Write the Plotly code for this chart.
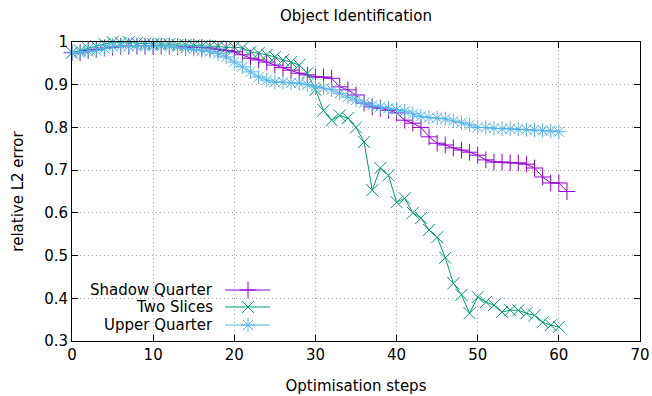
import plotly.graph_objects as go

steps_shadow = list(range(0, 62))
shadow_quarter = [0.975, 0.975, 0.98, 0.983, 0.986, 0.988, 0.99, 0.99, 0.99, 0.99,
                  0.99, 0.99, 0.99, 0.989, 0.988, 0.988, 0.987, 0.986, 0.983, 0.98,
                  0.977, 0.97, 0.962, 0.958, 0.953, 0.946, 0.94, 0.934, 0.927, 0.923,
                  0.918, 0.918, 0.915, 0.895, 0.888, 0.876, 0.857, 0.848, 0.845, 0.84,
                  0.834, 0.817, 0.81, 0.80, 0.778, 0.763, 0.759, 0.752, 0.747, 0.742,
                  0.735, 0.724, 0.719, 0.719, 0.717, 0.717, 0.714, 0.705, 0.684, 0.67,
                  0.67, 0.65]

steps_two = list(range(0, 61))
two_slices = [0.975, 0.98, 0.985, 0.99, 0.995, 1.0, 0.998, 1.0, 0.997, 0.996,
              0.995, 0.995, 0.995, 0.993, 0.993, 0.992, 0.99, 0.99, 0.99, 0.987,
              0.988, 0.986, 0.977, 0.974, 0.97, 0.965, 0.958, 0.953, 0.946, 0.927,
              0.888, 0.84, 0.817, 0.828, 0.822, 0.80, 0.766, 0.653, 0.705, 0.688,
              0.625, 0.634, 0.60, 0.588, 0.56, 0.543, 0.495, 0.435, 0.408, 0.365,
              0.403, 0.391, 0.384, 0.368, 0.372, 0.372, 0.365, 0.36, 0.344, 0.337,
              0.333]

steps_upper = list(range(0, 61))
upper_quarter = [0.975, 0.975, 0.978, 0.98, 0.985, 0.99, 0.99, 0.99, 0.99, 0.99,
                 0.99, 0.99, 0.99, 0.988, 0.985, 0.983, 0.98, 0.978, 0.973, 0.965,
                 0.953, 0.942, 0.93, 0.918, 0.911, 0.906, 0.906, 0.904, 0.904, 0.9,
                 0.895, 0.892, 0.888, 0.88, 0.871, 0.864, 0.857, 0.852, 0.848, 0.845,
                 0.842, 0.838, 0.832, 0.826, 0.823, 0.822, 0.82, 0.815, 0.811, 0.806,
                 0.80, 0.80, 0.798, 0.797, 0.797, 0.796, 0.795, 0.794, 0.793, 0.792,
                 0.79]

x_ticks = [0, 10, 20, 30, 40, 50, 60, 70]
y_ticks = [0.3, 0.4, 0.5, 0.6, 0.7, 0.8, 0.9, 1.0]
y_tick_labels = ["0.3", "0.4", "0.5", "0.6", "0.7", "0.8", "0.9", "1"]

series_names = ["Shadow Quarter", "Two Slices", "Upper Quarter"]
colors = ["#9400d3", "#009e73", "#56b4e9"]
symbols = ["cross-thin-open", "x-thin-open", "asterisk-open"]
sizes = [12, 12, 12]

FONT = "DejaVu Sans"
FS = 15
W, H = 652, 396
L, R, T, B = 72, 12, 42, 55

fig = go.Figure()
data = [(steps_shadow, shadow_quarter), (steps_two, two_slices), (steps_upper, upper_quarter)]
for (xs, ys), name, c, s, sz in zip(data, series_names, colors, symbols, sizes):
    fig.add_trace(go.Scatter(
        x=xs, y=ys, name=name, mode="lines+markers",
        line=dict(color=c, width=1),
        marker=dict(symbol=s, size=sz, color=c, line=dict(color=c, width=1)),
        showlegend=False, cliponaxis=False,
    ))

# custom gnuplot-style key (text right-aligned, sample on the right) on a pixel overlay axis
key_rows = [290, 307, 325]
for name, c, s, sz, yk in zip(series_names, colors, symbols, sizes, key_rows):
    fig.add_trace(go.Scatter(
        x=[225, 270], y=[yk, yk], mode="lines", line=dict(color=c, width=1),
        xaxis="x2", yaxis="y2", showlegend=False, hoverinfo="skip"))
    fig.add_trace(go.Scatter(
        x=[248], y=[yk], mode="markers",
        marker=dict(symbol=s, size=sz, color=c, line=dict(color=c, width=1)),
        xaxis="x2", yaxis="y2", showlegend=False, hoverinfo="skip"))
    fig.add_annotation(x=215, y=yk, xref="x2", yref="y2", text=name,
                       showarrow=False, xanchor="right", yanchor="middle",
                       font=dict(family=FONT, size=FS, color="black"))

axis_common = dict(
    showline=True, linecolor="black", linewidth=1, mirror="ticks",
    ticks="inside", ticklen=6, tickcolor="black", tickwidth=1,
    showgrid=True, gridcolor="#a8a8a8", griddash="1px,3px", gridwidth=1,
    zeroline=False, automargin=False,
    tickfont=dict(family=FONT, size=FS, color="black"),
)

fig.update_layout(
    width=W, height=H,
    margin=dict(l=L, r=R, t=T, b=B),
    paper_bgcolor="white", plot_bgcolor="white",
    title=dict(text="Object Identification", x=0.546, xanchor="center",
               y=1 - 16 / H, yanchor="middle",
               font=dict(family=FONT, size=FS, color="black")),
    xaxis=dict(range=[0, 70], tickvals=x_ticks,
               title=dict(text="Optimisation steps", standoff=17,
                          font=dict(family=FONT, size=FS, color="black")),
               **axis_common),
    yaxis=dict(range=[0.3, 1.0], tickvals=y_ticks, ticktext=y_tick_labels,
               title=dict(text="relative L2 error", standoff=16,
                          font=dict(family=FONT, size=FS, color="black")),
               **axis_common),
    xaxis2=dict(range=[L, W - R], overlaying="x", visible=False, fixedrange=True),
    yaxis2=dict(range=[H - B, T], overlaying="y", visible=False, fixedrange=True),
    showlegend=False,
)

fig.write_html("out.html")
